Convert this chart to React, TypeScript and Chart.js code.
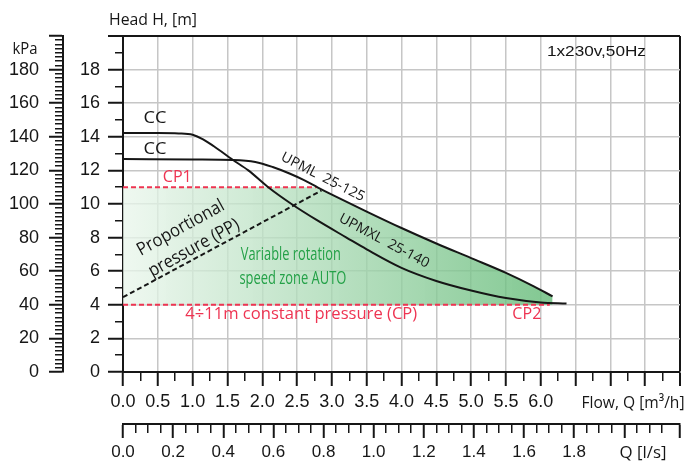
import { useEffect, useRef } from 'react';
import { Chart, registerables } from 'chart.js';

Chart.register(...registerables);

// Pump curves: flow Q in m³/h, head H in m
const UPML_Q = [0, 1.0, 1.58, 1.9, 2.15, 2.4, 2.6, 2.8, 3.0, 3.5, 4.0, 4.5, 5.0, 5.5, 5.9, 6.17];
const UPML_H = [12.68, 12.65, 12.62, 12.5, 12.2, 11.8, 11.42, 10.98, 10.56, 9.55, 8.57, 7.65, 6.78, 5.9, 5.1, 4.5];

const UPMXL_Q = [0, 0.5, 0.8, 1.0, 1.15, 1.3, 1.58, 1.8, 2.1, 2.42, 2.78, 3.21, 3.5, 4.0, 4.5, 5.0, 5.5, 6.0, 6.37];
const UPMXL_H = [14.22, 14.22, 14.2, 14.12, 13.85, 13.45, 12.62, 12.0, 10.95, 10.0, 9.05, 8.0, 7.3, 6.2, 5.42, 4.85, 4.4, 4.14, 4.08];

// Control modes
const CP1_Q = [0, 2.78];
const CP1_H = [11, 11];
const CP_Q = [0, 6.13];
const CP_H = [4, 4];
const PP_Q = [0, 2.85];
const PP_H = [4.45, 10.8];

// Axis ranges and labelled ticks
const FLOW_MAX = 8; // m³/h
const HEAD_MAX = 20; // m
const KPA_MAX = 200;
const M3H_PER_LS = 3.6;
const HEAD_LABELS = [0, 2, 4, 6, 8, 10, 12, 14, 16, 18];
const KPA_LABELS = [0, 20, 40, 60, 80, 100, 120, 140, 160, 180];
const FLOW_M3H_LABELS = [0, 0.5, 1.0, 1.5, 2.0, 2.5, 3.0, 3.5, 4.0, 4.5, 5.0, 5.5, 6.0];
const FLOW_LS_LABELS = [0, 0.2, 0.4, 0.6, 0.8, 1.0, 1.2, 1.4, 1.6, 1.8];

const INK = '#161616';
const GRID = '#c6c6c6';
const RED = '#ee3452';
const GREEN = '#24a148';
const TICK_FONT = "'Liberation Sans', Arial, sans-serif";
const NOTE_FONT = "'Open Sans', 'Noto Sans', sans-serif";

const near = (a: number, b: number) => Math.abs(a - b) < 1e-6;
const onStep = (v: number, step: number) => near(v / step, Math.round(v / step));
const inList = (v: number, list: number[]) => list.some((l) => near(l, v));
const pts = (qs: number[], hs: number[]) => qs.map((q, i) => ({ x: q, y: hs[i] }));

type Note = {
  text: string;
  size: number;
  width: number;
  color?: string;
  angle?: number;
  family?: string;
};

// Labels placed in data coordinates (Q, H)
const PLOT_NOTES: (Note & { q: number; h: number })[] = [
  { text: 'CC', q: 0.46, h: 15.09, size: 17, width: 23 },
  { text: 'CC', q: 0.46, h: 13.27, size: 17, width: 23 },
  { text: 'CP1', q: 0.78, h: 11.58, size: 17, width: 29, color: RED },
  { text: 'UPML  25-125', q: 2.87, h: 11.6, size: 14, width: 92, angle: 27 },
  { text: 'UPMXL  25-140', q: 3.75, h: 7.8, size: 14, width: 100, angle: 28 },
  { text: 'Proportional', q: 0.83, h: 8.57, size: 18, width: 97, angle: -29 },
  { text: 'pressure (PP)', q: 1.02, h: 7.38, size: 18, width: 101, angle: -29 },
  { text: 'Variable rotation', q: 2.41, h: 6.96, size: 18, width: 100, color: GREEN },
  { text: 'speed zone AUTO', q: 2.44, h: 5.54, size: 18, width: 107, color: GREEN },
  { text: '4÷11m constant pressure (CP)', q: 2.56, h: 3.45, size: 17, width: 232, color: RED },
  { text: 'CP2', q: 5.8, h: 3.45, size: 17, width: 29, color: RED },
  { text: '1x230v,50Hz', q: 6.8, h: 19.05, size: 14, width: 99, family: TICK_FONT },
];

// Axis captions placed in canvas pixels
const AXIS_NOTES: (Note & { x: number; y: number })[] = [
  { text: 'Head H, [m]', x: 153, y: 20, size: 17, width: 88 },
  { text: 'kPa', x: 25, y: 49, size: 16, width: 25 },
  { text: 'Flow, Q [m³/h]', x: 633, y: 403, size: 17, width: 103 },
  { text: 'Q [l/s]', x: 643, y: 453, size: 17, width: 47 },
];

function drawNote(ctx: CanvasRenderingContext2D, n: Note, x: number, y: number) {
  ctx.save();
  ctx.translate(x, y);
  if (n.angle) ctx.rotate((n.angle * Math.PI) / 180);
  ctx.font = `${n.size}px ${n.family || NOTE_FONT}`;
  const w = ctx.measureText(n.text).width;
  ctx.scale(w > 0 ? n.width / w : 1, 1);
  ctx.textAlign = 'center';
  ctx.textBaseline = 'middle';
  ctx.fillStyle = n.color || INK;
  ctx.fillText(n.text, 0, 0);
  ctx.restore();
}

const notesPlugin = {
  id: 'pumpNotes',
  afterDatasetsDraw(chart: any) {
    const { ctx, scales } = chart;
    for (const n of PLOT_NOTES) {
      drawNote(ctx, n, scales.x.getPixelForValue(n.q), scales.y.getPixelForValue(n.h));
    }
  },
  afterDraw(chart: any) {
    for (const n of AXIS_NOTES) drawNote(chart.ctx, n, n.x, n.y);
  },
};

// Tick styling: long major marks, short minor marks (shortened with a dash pattern)
function tickGrid(opts: {
  isMajor: (v: number) => boolean;
  tl: number;
  minor: number;
  outward: boolean;
  onArea: boolean;
  frameAt?: number;
}) {
  const val = (c: any) => (c && c.tick ? c.tick.value : NaN);
  return {
    drawOnChartArea: opts.onArea,
    drawTicks: true,
    tickLength: opts.tl,
    color: (c: any) => {
      const v = val(c);
      if (opts.frameAt !== undefined && near(v, opts.frameAt)) return INK;
      return opts.isMajor(v) ? GRID : 'rgba(0,0,0,0)';
    },
    lineWidth: (c: any) => (opts.frameAt !== undefined && near(val(c), opts.frameAt) ? 2 : 1.5),
    tickColor: INK,
    tickWidth: (c: any) => (opts.isMajor(val(c)) ? 2 : 1.5),
    tickBorderDash: (c: any) =>
      opts.isMajor(val(c))
        ? []
        : opts.outward
        ? [opts.minor, 1000]
        : [0, opts.tl - opts.minor, opts.minor, 1000],
  };
}

const border = { display: true, color: INK, width: 2 };

export default function App() {
  const canvasRef = useRef<HTMLCanvasElement | null>(null);

  useEffect(() => {
    if (!canvasRef.current) return;

    // Variable-speed zone: bounded by CP1 on top, the UPML curve on the right, CP below
    const zone = [
      { x: CP1_Q[0], y: CP1_H[0] },
      { x: CP1_Q[1], y: CP1_H[1] },
      ...pts(UPML_Q, UPML_H).filter((p) => p.x > CP1_Q[1]),
    ];

    const chart = new Chart(canvasRef.current, {
      type: 'line',
      data: {
        datasets: [
          {
            label: 'UPML 25-125',
            data: pts(UPML_Q, UPML_H),
            borderColor: INK,
            borderWidth: 2,
            pointRadius: 0,
            cubicInterpolationMode: 'monotone',
            fill: false,
            order: 0,
          },
          {
            label: 'UPMXL 25-140',
            data: pts(UPMXL_Q, UPMXL_H),
            borderColor: INK,
            borderWidth: 2,
            pointRadius: 0,
            cubicInterpolationMode: 'monotone',
            fill: false,
            order: 0,
          },
          {
            label: 'CP1',
            data: pts(CP1_Q, CP1_H),
            borderColor: RED,
            borderWidth: 2,
            borderDash: [5, 3],
            pointRadius: 0,
            fill: false,
            order: 1,
          },
          {
            label: 'CP',
            data: pts(CP_Q, CP_H),
            borderColor: RED,
            borderWidth: 2,
            borderDash: [5, 3],
            pointRadius: 0,
            fill: false,
            order: 1,
          },
          {
            label: 'PP',
            data: pts(PP_Q, PP_H),
            borderColor: INK,
            borderWidth: 2,
            borderDash: [5, 3],
            pointRadius: 0,
            fill: false,
            order: 1,
          },
          {
            label: 'AUTO zone',
            data: zone,
            borderWidth: 0,
            borderColor: 'rgba(0,0,0,0)',
            pointRadius: 0,
            cubicInterpolationMode: 'monotone',
            fill: { value: CP_H[0] },
            backgroundColor: (c: any) => {
              const chart = c.chart;
              if (!chart.chartArea) return 'rgba(120,195,135,0.7)';
              const xs = chart.scales.x;
              const g = chart.ctx.createLinearGradient(
                xs.getPixelForValue(0),
                0,
                xs.getPixelForValue(6.2),
                0
              );
              g.addColorStop(0, 'rgba(234,246,236,0.78)');
              g.addColorStop(1, 'rgba(98,186,118,0.8)');
              return g;
            },
            order: 5,
          },
        ],
      },
      options: {
        responsive: true,
        maintainAspectRatio: false,
        animation: false,
        layout: { padding: { top: 36, right: 9, bottom: 0, left: 0 } },
        plugins: {
          legend: { display: false },
          tooltip: { enabled: false },
          title: { display: false },
        },
        scales: {
          x: {
            type: 'linear',
            position: 'bottom',
            weight: 0,
            min: 0,
            max: FLOW_MAX,
            afterFit: (s: any) => {
              s.height = 52;
            },
            border,
            grid: tickGrid({
              isMajor: (v) => onStep(v, 0.5),
              tl: 14,
              minor: 8,
              outward: true,
              onArea: true,
              frameAt: FLOW_MAX,
            }),
            ticks: {
              stepSize: 0.25,
              autoSkip: false,
              maxRotation: 0,
              minRotation: 0,
              padding: 5,
              color: INK,
              font: { family: TICK_FONT, size: 18 },
              callback: (v: any) => (inList(Number(v), FLOW_M3H_LABELS) ? Number(v).toFixed(1) : ''),
            },
          },
          x2: {
            type: 'linear',
            position: 'bottom',
            weight: 1,
            min: 0,
            max: FLOW_MAX / M3H_PER_LS,
            afterFit: (s: any) => {
              s.height = 43;
            },
            border,
            grid: tickGrid({
              isMajor: (v) =>
                (onStep(v, 0.2) && v < 2.1) || near(v, FLOW_MAX / M3H_PER_LS),
              tl: 14,
              minor: 8,
              outward: true,
              onArea: false,
            }),
            ticks: {
              stepSize: 0.05,
              autoSkip: false,
              maxRotation: 0,
              minRotation: 0,
              padding: 4,
              color: INK,
              font: { family: TICK_FONT, size: 17 },
              callback: (v: any) => (inList(Number(v), FLOW_LS_LABELS) ? Number(v).toFixed(1) : ''),
            },
          },
          y: {
            type: 'linear',
            position: 'left',
            weight: 0,
            min: 0,
            max: HEAD_MAX,
            afterFit: (s: any) => {
              s.width = 60;
            },
            border,
            grid: tickGrid({
              isMajor: (v) => onStep(v, 2),
              tl: 15,
              minor: 8,
              outward: false,
              onArea: true,
              frameAt: HEAD_MAX,
            }),
            ticks: {
              stepSize: 1,
              autoSkip: false,
              padding: 8,
              color: INK,
              font: { family: TICK_FONT, size: 18 },
              callback: (v: any) => (inList(Number(v), HEAD_LABELS) ? String(v) : ''),
            },
          },
          y2: {
            type: 'linear',
            position: 'left',
            weight: 1,
            min: 0,
            max: KPA_MAX,
            afterFit: (s: any) => {
              s.width = 63;
            },
            border,
            grid: tickGrid({
              isMajor: (v) => onStep(v, 20),
              tl: 14,
              minor: 8,
              outward: false,
              onArea: false,
            }),
            ticks: {
              stepSize: 2.5,
              autoSkip: false,
              padding: 10,
              color: INK,
              font: { family: TICK_FONT, size: 18 },
              callback: (v: any) => (inList(Number(v), KPA_LABELS) ? String(v) : ''),
            },
          },
        },
      } as any,
      plugins: [notesPlugin],
    });

    return () => chart.destroy();
  }, []);

  return (
    <div style={{ position: 'absolute', left: 0, top: 0, width: 689, height: 467, background: '#fff' }}>
      <canvas ref={canvasRef} />
    </div>
  );
}
